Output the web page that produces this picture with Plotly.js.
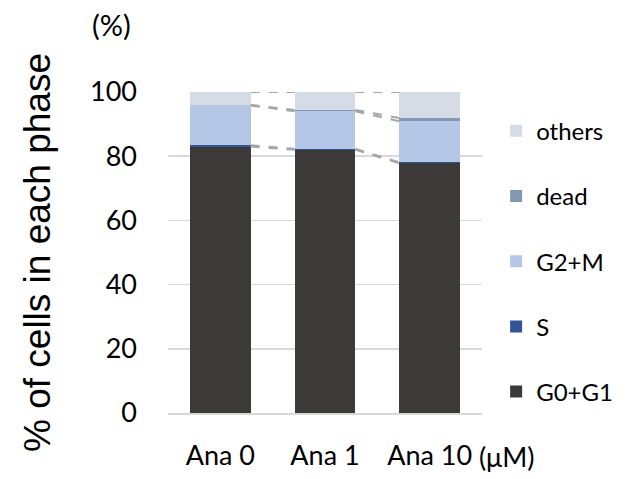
<!DOCTYPE html>
<html>
<head>
<meta charset="utf-8">
<script src="https://cdn.plot.ly/plotly-3.0.1.min.js"></script>
<style>
  html, body { margin: 0; padding: 0; background: #ffffff; }
  #chart { width: 633px; height: 479px; }
</style>
</head>
<body>
<div id="chart"></div>
<script>
// Cell-cycle distribution (%) for each anagliptin concentration
const categories = ["Ana 0", "Ana 1", "Ana 10"];
const g0g1   = [83.0, 82.0, 77.8];
const sPhase = [0.4, 0.3, 0.3];
const g2m    = [12.4, 11.7, 12.8];
const dead   = [0.2, 0.4, 1.0];
const others = [4.0, 5.6, 8.1];

const seriesNames  = ["G0+G1", "S", "G2+M", "dead", "others"];
const seriesValues = [g0g1, sPhase, g2m, dead, others];
const seriesColors = ["#3b3a39", "#2f5597", "#b4c7e7", "#8497b0", "#d6dce5"];

const textFont = "Lato, 'Noto Sans', sans-serif";
const tickFont = { family: textFont, size: 27, color: "#000000" };

// Top segment of the stack is listed first in the legend
const traces = seriesNames.map((name, k) => ({
  type: "bar",
  name: name,
  x: categories,
  y: seriesValues[k],
  marker: { color: seriesColors[k], line: { width: 0 } },
  legendgroup: name,
  legendrank: seriesNames.length - k,
  hoverinfo: "name+y"
}));

// Series lines joining the top of each stacked segment between neighbouring bars
const bargap = 0.42;
const half = (1 - bargap) / 2;
const shapes = [];
const cumul = categories.map(() => 0);
seriesValues.forEach(vals => {
  vals.forEach((v, i) => { cumul[i] += v; });
  for (let i = 0; i < categories.length - 1; i++) {
    shapes.push({
      type: "line", xref: "x", yref: "y", layer: "above",
      x0: i + half, x1: i + 1 - half,
      y0: cumul[i], y1: cumul[i + 1],
      line: { color: "#a6a6a6", width: 2, dash: "dash" }
    });
  }
});

const layout = {
  width: 633, height: 479,
  margin: { l: 168, r: 151, t: 92, b: 66, pad: 0 },
  paper_bgcolor: "#ffffff",
  plot_bgcolor: "#ffffff",
  barmode: "stack",
  bargap: bargap,
  showlegend: true,
  legend: {
    traceorder: "grouped",
    tracegroupgap: 31,
    x: 1.045, xanchor: "left",
    y: 0.948, yanchor: "top",
    font: { family: textFont, size: 24, color: "#000000" },
    itemwidth: 30,
    bgcolor: "rgba(0,0,0,0)"
  },
  xaxis: {
    type: "category",
    tickfont: tickFont,
    ticks: "",
    showgrid: false,
    showline: true,
    linecolor: "#d9d9d9",
    linewidth: 1.5,
    ticklabelstandoff: 18,
    fixedrange: true
  },
  yaxis: {
    range: [0, 100],
    tickvals: [0, 20, 40, 60, 80, 100],
    tickfont: tickFont,
    ticks: "",
    showgrid: true,
    gridcolor: "#d9d9d9",
    gridwidth: 1.5,
    zeroline: false,
    showline: false,
    ticklabelstandoff: 30,
    title: {
      text: "% of cells in each phase",
      font: { family: "'Liberation Sans', Arial, sans-serif", size: 37, color: "#000000" },
      standoff: 28
    },
    fixedrange: true
  },
  shapes: shapes,
  annotations: [
    {
      text: "(%)", xref: "paper", yref: "paper",
      x: -0.25, y: 1.21, xanchor: "left", yanchor: "middle",
      showarrow: false,
      font: { family: textFont, size: 29, color: "#000000" }
    },
    {
      text: "(μM)", xref: "paper", yref: "paper",
      x: 0.985, y: -0.135, xanchor: "left", yanchor: "middle",
      showarrow: false,
      font: { family: textFont, size: 27, color: "#000000" }
    }
  ]
};

Plotly.newPlot("chart", traces, layout, { displayModeBar: false, staticPlot: true });
</script>
</body>
</html>
